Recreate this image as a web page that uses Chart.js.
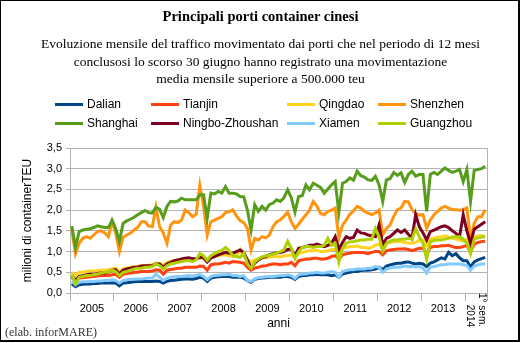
<!DOCTYPE html>
<html>
<head>
<meta charset="utf-8">
<script src="https://cdn.jsdelivr.net/npm/chart.js@4.4.1/dist/chart.umd.min.js"></script>
<style>
  body { margin: 0; background: #fff; }
  #page { position: relative; width: 521px; height: 343px; overflow: hidden; }
  #frame { position: absolute; left: 0; top: 0; width: 520px; height: 342px; box-sizing: border-box;
           border-left: 1px solid #000; border-top: 1px solid #000; border-right: 2px solid #000; border-bottom: 2px solid #000; }
  #title { position: absolute; left: 0; width: 521px; top: 8px; text-align: center;
           font: bold 14.5px "Liberation Serif", serif; color: #000; }
  #sub { position: absolute; left: 0; width: 521px; top: 35px; text-align: center;
         font: 13.5px/17.5px "Liberation Serif", serif; color: #000; }
  #legend { position: absolute; left: 0; top: 0; font: 12px "Liberation Sans", sans-serif; color: #000; }
  .li { position: absolute; white-space: nowrap; height: 14px; line-height: 14px; }
  .li span.sw { position: absolute; left: 0; top: 6px; width: 28px; height: 3px; }
  .li span.tx { position: absolute; left: 32px; top: 0; }
  #wrap { position: absolute; left: 0; top: 0; width: 521px; height: 343px; }
  #credit { position: absolute; left: 5px; top: 325px; font: 12px "Liberation Serif", serif; color: #333; }
</style>
</head>
<body>
<div id="page">
  <div id="wrap"><canvas id="chart"></canvas></div>
  <div id="title">Principali porti container cinesi</div>
  <div id="sub">Evoluzione mensile del traffico movimentato dai porti che nel periodo di 12 mesi<br>conclusosi lo scorso 30 giugno hanno registrato una movimentazione<br>media mensile superiore a 500.000 teu</div>
  <div id="legend"></div>
  <div id="credit">(elab. inforMARE)</div>
  <div id="frame"></div>
</div>
<script>
// anni sull'asse x (2014 solo primo semestre)
const years = ['2005', '2006', '2007', '2008', '2009', '2010', '2011', '2012', '2013', '2014'];
const monthsPerYear = [12, 12, 12, 12, 12, 12, 12, 12, 12, 6];
const lastLabel = ['1° sem.', '2014'];
const yTicks = [0, 0.5, 1, 1.5, 2, 2.5, 3, 3.5];

// milioni di TEU al mese, gen 2005 - giu 2014
const dalian = [
  0.22,0.15,0.20,0.21,0.22,0.22,0.23,0.23,0.24,0.24,0.24,0.25,
  0.24,0.17,0.24,0.25,0.26,0.27,0.28,0.28,0.28,0.28,0.28,0.29,
  0.28,0.24,0.28,0.30,0.31,0.32,0.33,0.34,0.34,0.33,0.35,0.38,
  0.36,0.28,0.36,0.38,0.39,0.40,0.40,0.40,0.38,0.38,0.38,0.36,
  0.30,0.26,0.33,0.35,0.36,0.37,0.38,0.38,0.38,0.38,0.40,0.40,
  0.38,0.33,0.40,0.42,0.42,0.44,0.44,0.45,0.44,0.44,0.44,0.42,
  0.44,0.38,0.46,0.48,0.50,0.52,0.52,0.54,0.55,0.55,0.56,0.58,
  0.62,0.56,0.65,0.68,0.70,0.72,0.72,0.74,0.75,0.72,0.70,0.72,
  0.70,0.64,0.72,0.75,0.80,0.85,0.82,0.98,0.90,0.95,0.85,0.78,
  0.78,0.63,0.75,0.80,0.83,0.86
];
const tianjin = [
  0.37,0.30,0.36,0.37,0.38,0.39,0.40,0.41,0.42,0.42,0.42,0.44,
  0.45,0.38,0.45,0.47,0.48,0.50,0.50,0.52,0.52,0.52,0.53,0.56,
  0.55,0.45,0.55,0.57,0.58,0.60,0.60,0.62,0.62,0.62,0.62,0.65,
  0.64,0.55,0.68,0.70,0.70,0.72,0.74,0.72,0.76,0.75,0.74,0.72,
  0.62,0.55,0.60,0.62,0.65,0.66,0.68,0.70,0.70,0.68,0.70,0.70,
  0.74,0.66,0.78,0.80,0.82,0.82,0.84,0.84,0.82,0.82,0.84,0.88,
  0.90,0.82,0.92,0.95,0.96,0.98,0.98,0.98,0.97,0.95,0.98,1.00,
  1.00,0.92,1.02,1.04,1.05,1.06,1.06,1.07,1.05,1.02,1.05,1.08,
  1.08,0.95,1.10,1.12,1.12,1.14,1.14,1.15,1.12,1.10,1.10,1.12,
  1.15,0.98,1.18,1.22,1.24,1.25
];
const qingdao = [
  0.50,0.42,0.50,0.50,0.52,0.53,0.53,0.54,0.55,0.55,0.56,0.58,
  0.60,0.50,0.58,0.60,0.62,0.63,0.64,0.66,0.66,0.67,0.68,0.72,
  0.72,0.66,0.74,0.76,0.78,0.80,0.80,0.82,0.82,0.80,0.82,0.85,
  0.84,0.78,0.86,0.88,0.90,0.92,0.92,0.90,0.88,0.90,1.05,0.88,
  0.80,0.75,0.80,0.82,0.85,0.85,0.87,0.88,0.88,0.87,0.90,0.90,
  0.92,0.85,0.95,0.98,1.00,1.02,1.02,1.03,1.00,1.00,1.02,1.05,
  1.05,0.95,1.08,1.10,1.12,1.12,1.14,1.10,1.10,1.08,1.10,1.15,
  1.18,1.05,1.20,1.22,1.24,1.25,1.24,1.22,1.20,1.20,1.22,1.28,
  1.28,1.15,1.30,1.32,1.35,1.36,1.38,1.35,1.32,1.30,1.28,1.25,
  1.30,1.00,1.35,1.38,1.38,1.37
];
const shenzhen = [
  1.52,0.95,1.20,1.32,1.36,1.32,1.40,1.48,1.50,1.45,1.36,1.72,
  1.45,1.00,1.34,1.40,1.44,1.52,1.58,1.72,1.72,1.62,1.60,2.07,
  1.60,1.45,1.20,1.64,1.72,1.70,1.76,2.00,1.94,1.84,1.90,2.60,
  2.10,1.40,1.72,1.76,1.80,1.84,1.94,1.96,2.01,1.86,1.75,1.70,
  1.56,1.04,1.32,1.28,1.36,1.33,1.40,1.60,1.72,1.76,1.85,1.95,
  1.72,1.56,1.66,1.78,1.89,2.00,2.21,2.10,1.92,1.89,1.97,2.00,
  2.05,1.32,1.64,1.76,1.90,1.98,2.09,2.05,1.97,1.93,1.89,1.93,
  2.00,1.40,1.56,1.64,1.85,2.01,2.05,2.21,2.20,2.01,1.92,1.88,
  1.89,1.56,1.76,1.89,1.97,2.05,2.09,2.05,2.01,2.01,2.00,2.01,
  2.05,1.28,1.68,1.84,1.84,2.01
];
const shanghai = [
  1.62,1.10,1.48,1.52,1.54,1.55,1.58,1.62,1.60,1.58,1.58,1.76,
  1.55,1.24,1.68,1.74,1.78,1.83,1.89,1.94,1.99,1.94,1.93,2.07,
  2.02,1.82,2.09,2.21,2.20,2.22,2.29,2.25,2.25,2.25,2.25,2.37,
  2.37,1.80,2.41,2.39,2.45,2.41,2.57,2.41,2.41,2.39,2.33,2.32,
  2.00,1.52,2.13,1.97,2.09,2.00,2.13,2.17,2.25,2.21,2.30,2.49,
  2.30,1.95,2.33,2.35,2.61,2.49,2.65,2.60,2.55,2.41,2.51,2.61,
  2.69,1.95,2.65,2.69,2.78,2.72,2.94,2.83,2.80,2.73,2.72,2.82,
  2.61,2.21,2.73,2.76,2.91,2.84,2.90,2.67,2.86,2.94,2.82,2.86,
  2.86,1.97,2.86,2.91,2.86,2.94,3.02,2.96,2.91,2.94,2.98,2.69,
  2.98,2.21,2.96,2.98,3.00,3.06
];
const ningbo = [
  0.42,0.30,0.40,0.42,0.44,0.45,0.45,0.47,0.48,0.48,0.50,0.55,
  0.56,0.46,0.55,0.58,0.60,0.62,0.63,0.65,0.66,0.66,0.66,0.70,
  0.70,0.62,0.70,0.74,0.78,0.80,0.82,0.84,0.85,0.83,0.82,0.86,
  0.85,0.75,0.84,0.88,0.92,0.95,0.98,0.96,0.96,1.00,1.04,0.98,
  0.80,0.60,0.72,0.80,0.85,0.88,0.92,0.95,0.97,0.98,1.00,1.05,
  1.06,0.90,1.08,1.10,1.12,1.15,1.15,1.18,1.15,1.12,1.15,1.20,
  1.36,1.05,1.22,1.36,1.32,1.34,1.52,1.45,1.44,1.40,1.38,1.36,
  1.64,1.16,1.32,1.36,1.44,1.52,1.46,1.52,1.42,1.32,1.89,1.60,
  1.45,1.28,1.48,1.52,1.56,1.60,1.62,1.58,1.50,1.44,1.36,1.89,
  1.50,1.20,1.54,1.60,1.66,1.72
];
const xiamen = [
  0.28,0.20,0.26,0.27,0.27,0.28,0.28,0.29,0.29,0.30,0.30,0.32,
  0.30,0.24,0.30,0.32,0.33,0.33,0.34,0.34,0.35,0.36,0.36,0.45,
  0.38,0.30,0.36,0.38,0.39,0.40,0.40,0.41,0.42,0.41,0.42,0.45,
  0.40,0.32,0.40,0.42,0.43,0.44,0.44,0.45,0.42,0.42,0.40,0.42,
  0.30,0.28,0.34,0.37,0.38,0.39,0.40,0.40,0.41,0.42,0.42,0.44,
  0.42,0.35,0.44,0.46,0.46,0.48,0.48,0.50,0.48,0.48,0.50,0.52,
  0.50,0.38,0.52,0.54,0.56,0.56,0.58,0.58,0.58,0.60,0.60,0.64,
  0.62,0.50,0.58,0.60,0.62,0.62,0.63,0.65,0.64,0.64,0.63,0.64,
  0.60,0.48,0.62,0.64,0.66,0.68,0.68,0.70,0.70,0.70,0.70,0.68,
  0.66,0.55,0.65,0.68,0.70,0.70
];
const guangzhou = [
  0.45,0.22,0.38,0.40,0.42,0.42,0.44,0.46,0.48,0.50,0.50,0.55,
  0.52,0.42,0.50,0.52,0.55,0.58,0.60,0.60,0.62,0.62,0.64,0.70,
  0.66,0.58,0.66,0.70,0.72,0.74,0.76,0.78,0.78,0.76,0.80,0.95,
  0.90,0.79,0.90,0.95,1.00,1.03,1.10,1.02,0.91,0.88,0.86,0.96,
  0.71,0.59,0.75,0.82,0.87,0.90,0.91,0.94,0.97,1.00,1.04,1.25,
  1.08,0.83,1.00,1.10,1.12,1.12,1.10,1.12,1.12,1.15,1.32,1.15,
  1.20,0.75,1.08,1.20,1.24,1.24,1.26,1.28,1.28,1.30,1.30,1.56,
  1.35,1.02,1.20,1.25,1.28,1.28,1.30,1.30,1.32,1.30,1.55,1.35,
  1.20,0.82,1.24,1.27,1.28,1.28,1.30,1.32,1.35,1.36,1.36,1.30,
  1.20,0.95,1.30,1.33,1.35,1.36
];

const ports = ['Dalian', 'Tianjin', 'Qingdao', 'Shenzhen', 'Shanghai', 'Ningbo-Zhoushan', 'Xiamen', 'Guangzhou'];
const seriesData = [dalian, tianjin, qingdao, shenzhen, shanghai, ningbo, xiamen, guangzhou];
const colors = ['#004586', '#ff420e', '#ffd320', '#ff950e', '#579d1c', '#7e0021', '#83caff', '#aecf00'];

// una categoria per mese; l'etichetta dell'anno sta a metà anno
const labels = [];
const yearLabelAt = {};
years.forEach((y, k) => {
  for (let m = 0; m < monthsPerYear[k]; m++) labels.push(y + '-' + (m + 1));
  if (monthsPerYear[k] === 12) yearLabelAt[labels.length - 6] = y;
});

const grid = '#b3b3b3';

const semLabel = {
  id: 'semLabel',
  afterDraw(chart) {
    const xs = chart.scales.x;
    const ctx = chart.ctx;
    const x = xs.getPixelForValue(labels.length - 3.5);
    ctx.save();
    ctx.translate(x, 327);
    ctx.rotate(Math.PI / 2);
    ctx.font = '10px "Liberation Sans", sans-serif';
    ctx.fillStyle = '#000';
    ctx.textAlign = 'right';
    ctx.textBaseline = 'middle';
    ctx.fillText(lastLabel[0], 0, -6);
    ctx.fillText(lastLabel[1], 0, 6);
    ctx.restore();
  }
};

const chart = new Chart(document.getElementById('chart'), {
  type: 'line',
  data: {
    labels: labels,
    datasets: ports.map((p, i) => ({
      label: p,
      data: seriesData[i],
      borderColor: colors[i],
      backgroundColor: colors[i],
      borderWidth: 3,
      pointRadius: 0,
      tension: 0,
      fill: false,
      order: ports.length - i
    }))
  },
  options: {
    responsive: true,
    maintainAspectRatio: false,
    animation: false,
    layout: { padding: { top: 148, left: 14, right: 26, bottom: 0 } },
    plugins: { legend: { display: false }, tooltip: { enabled: false } },
    scales: {
      x: {
        offset: true,
        grid: {
          offset: true,
          drawOnChartArea: false,
          tickLength: 8,
          color: c => (c.index === undefined || c.index % 12 === 0) ? grid : 'rgba(0,0,0,0)'
        },
        border: { color: grid },
        ticks: {
          autoSkip: false,
          maxRotation: 0,
          minRotation: 0,
          padding: 1,
          labelOffset: -1.9,
          color: '#000',
          font: { family: '"Liberation Sans", sans-serif', size: 11 },
          callback: (v, i) => yearLabelAt[i] || ''
        },
        title: {
          display: true, text: 'anni', color: '#000',
          font: { family: '"Liberation Sans", sans-serif', size: 12 },
          padding: { top: 0, bottom: 12 }
        },
        afterFit: s => { s.height = 50; }
      },
      y: {
        min: 0, max: 3.5,
        grid: { color: grid, tickLength: 4 },
        border: { color: grid },
        afterBuildTicks: s => { s.ticks = yTicks.map(v => ({ value: v })); },
        ticks: {
          padding: 4,
          color: '#000',
          font: { family: '"Liberation Sans", sans-serif', size: 11 },
          callback: v => v.toFixed(1).replace('.', ',')
        },
        title: {
          display: true, text: 'milioni di containerTEU', color: '#000',
          font: { family: '"Liberation Sans", sans-serif', size: 12 },
          padding: { top: 6, bottom: 4 }
        },
        afterFit: s => { s.width = 56; }
      },
      y2: {
        position: 'right',
        min: 0, max: 3.5,
        grid: { display: false },
        ticks: { display: false },
        border: { color: grid }
      }
    }
  },
  plugins: [semLabel]
});

// legenda a griglia 4 x 2
const legendCols = [55, 151, 287, 378];
const legendRows = [97, 116];
const legendBox = document.getElementById('legend');
chart.data.datasets.forEach((ds, i) => {
  const item = document.createElement('div');
  item.className = 'li';
  item.style.left = legendCols[i % 4] + 'px';
  item.style.top = legendRows[Math.floor(i / 4)] + 'px';
  item.innerHTML = '<span class="sw" style="background:' + ds.borderColor + '"></span><span class="tx">' + ds.label + '</span>';
  legendBox.appendChild(item);
});
</script>
</body>
</html>
